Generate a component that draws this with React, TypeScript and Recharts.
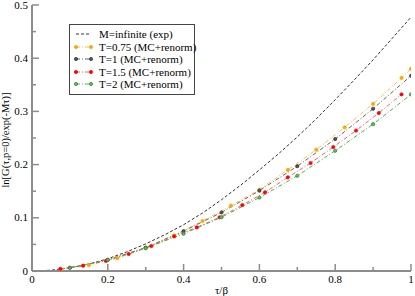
import { LineChart, Line, XAxis, YAxis, Legend } from 'recharts';

const xTicks = [0, 0.1, 0.2, 0.3, 0.4, 0.5, 0.6, 0.7, 0.8, 0.9, 1];
const yTicks = [0, 0.05, 0.1, 0.15, 0.2, 0.25, 0.3, 0.35, 0.4, 0.45, 0.5];

// M = infinite (exp)
const tauExact = [0, 0.05, 0.1, 0.15, 0.2, 0.25, 0.3, 0.35, 0.4, 0.45, 0.5, 0.55, 0.6, 0.65, 0.7, 0.75, 0.8, 0.85, 0.9, 0.95, 1];
const valExact = [0, 0.0015, 0.006, 0.013, 0.023, 0.036, 0.051, 0.068, 0.087, 0.109, 0.134, 0.161, 0.19, 0.22, 0.252, 0.286, 0.322, 0.359, 0.397, 0.437, 0.477];

// T = 0.75
const tauT075 = [0.075, 0.15, 0.225, 0.3, 0.375, 0.45, 0.525, 0.6, 0.675, 0.75, 0.825, 0.9, 0.975, 1];
const valT075 = [0.003, 0.011, 0.024, 0.043, 0.067, 0.094, 0.123, 0.153, 0.19, 0.228, 0.27, 0.314, 0.363, 0.38];

// T = 1
const tauT1 = [0.1, 0.2, 0.3, 0.4, 0.5, 0.6, 0.7, 0.8, 0.9, 1];
const valT1 = [0.006, 0.021, 0.044, 0.075, 0.11, 0.151, 0.197, 0.248, 0.305, 0.367];

// T = 1.5
const tauT15 = [0.075, 0.135, 0.195, 0.255, 0.315, 0.375, 0.435, 0.495, 0.555, 0.615, 0.675, 0.735, 0.795, 0.855, 0.915, 0.975];
const valT15 = [0.004, 0.01, 0.019, 0.032, 0.047, 0.065, 0.082, 0.101, 0.124, 0.148, 0.176, 0.203, 0.233, 0.264, 0.297, 0.332];

// T = 2
const tauT2 = [0.1, 0.2, 0.3, 0.4, 0.5, 0.6, 0.7, 0.8, 0.9, 1];
const valT2 = [0.006, 0.021, 0.043, 0.07, 0.101, 0.138, 0.179, 0.226, 0.276, 0.332];

const toRows = (xs: number[], ys: number[]) => xs.map((x, i) => ({ x, y: ys[i] }));

const FONT = "'Liberation Serif', 'DejaVu Serif', serif";
const AXIS = '#8c8c8c';

const series = [
  { key: 'exact', name: 'M=infinite (exp)', data: toRows(tauExact, valExact), line: '#333333', dash: '3 2', marker: null as null | { fill: string; stroke: string } },
  { key: 't075', name: 'T=0.75 (MC+renorm)', data: toRows(tauT075, valT075), line: '#ffc050', dash: '4 2 1 2', marker: { fill: '#ffa500', stroke: '#ffa500' } },
  { key: 't1', name: 'T=1 (MC+renorm)', data: toRows(tauT1, valT1), line: '#666666', dash: '4 2 1 2', marker: { fill: '#555555', stroke: '#333333' } },
  { key: 't15', name: 'T=1.5 (MC+renorm)', data: toRows(tauT15, valT15), line: '#ff6060', dash: '4 2 1 2', marker: { fill: '#ff0000', stroke: '#ff0000' } },
  { key: 't2', name: 'T=2 (MC+renorm)', data: toRows(tauT2, valT2), line: '#50b050', dash: '4 2 1 2', marker: { fill: '#66bb66', stroke: '#2a8a2a' } },
];

const near = (v: number, step: number) => Math.abs(v / step - Math.round(v / step)) < 1e-6;
const fmt = (v: number) => String(Math.round(v * 100) / 100);

function BottomTick({ x, y, payload }: any) {
  const major = near(payload.value, 0.2);
  return (
    <g>
      <line x1={x} x2={x} y1={y} y2={y - (major ? 7 : 4)} stroke={AXIS} strokeWidth={1.5} />
      {major && (
        <text x={x} y={y + 12} textAnchor="middle" fontSize={11} style={{ fontFamily: FONT }} fill="#000">
          {fmt(payload.value)}
        </text>
      )}
    </g>
  );
}

function TopTick({ x, y, payload }: any) {
  const major = near(payload.value, 0.2);
  return <line x1={x} x2={x} y1={y} y2={y + (major ? 7 : 4)} stroke={AXIS} strokeWidth={1.5} />;
}

function LeftTick({ x, y, payload }: any) {
  const major = near(payload.value, 0.1);
  return (
    <g>
      <line x1={x} x2={x + (major ? 7 : 4)} y1={y} y2={y} stroke={AXIS} strokeWidth={1.5} />
      {major && (
        <text x={x - 4} y={y + 3.5} textAnchor="end" fontSize={11} style={{ fontFamily: FONT }} fill="#000">
          {fmt(payload.value)}
        </text>
      )}
    </g>
  );
}

function RightTick({ x, y, payload }: any) {
  const major = near(payload.value, 0.1);
  return <line x1={x} x2={x - (major ? 7 : 4)} y1={y} y2={y} stroke={AXIS} strokeWidth={1.5} />;
}

function LegendBox() {
  return (
    <div
      style={{
        border: '1.5px solid #444',
        background: '#fff',
        padding: '3px 0 3px 0',
        width: 124,
        fontFamily: FONT,
        fontSize: 11,
        lineHeight: '12.5px',
      }}
    >
      {series.map((s) => (
        <div key={s.key} style={{ display: 'flex', alignItems: 'center', height: 12.5, whiteSpace: 'nowrap' }}>
          <svg width={28} height={10} style={{ flex: 'none' }}>
            <line x1={6} x2={21} y1={5} y2={5} stroke={s.line} strokeDasharray={s.dash} strokeWidth={1} />
            {s.marker && (
              <>
                <circle cx={6} cy={5} r={1.6} fill={s.marker.fill} stroke={s.marker.stroke} strokeWidth={0.8} />
                <circle cx={21} cy={5} r={1.6} fill={s.marker.fill} stroke={s.marker.stroke} strokeWidth={0.8} />
              </>
            )}
          </svg>
          <span style={{ marginLeft: 1 }}>{s.name}</span>
        </div>
      ))}
    </div>
  );
}

export default function App() {
  return (
    <div style={{ width: 415, height: 296, fontFamily: FONT }}>
      <style>{`body{margin:0;background:#fff} .recharts-wrapper, .recharts-wrapper text { font-family: ${FONT}; }`}</style>
      <LineChart width={415} height={296} margin={{ top: 5, right: 4, bottom: 0, left: 0 }}>
        <XAxis
          xAxisId="b"
          dataKey="x"
          type="number"
          domain={[0, 1]}
          ticks={xTicks}
          interval={0}
          height={25}
          tickSize={0}
          tickMargin={0}
          tickLine={false}
          tick={<BottomTick />}
          axisLine={{ stroke: AXIS, strokeWidth: 2 }}
          allowDataOverflow
          label={{ value: 'τ/β', position: 'insideBottom', offset: 2, fontSize: 11, fill: '#000' }}
        />
        <XAxis
          xAxisId="t"
          dataKey="x"
          type="number"
          orientation="top"
          domain={[0, 1]}
          ticks={xTicks}
          interval={0}
          height={0}
          tickSize={0}
          tickMargin={0}
          tickLine={false}
          tick={<TopTick />}
          axisLine={{ stroke: AXIS, strokeWidth: 2 }}
          allowDataOverflow
        />
        <YAxis
          yAxisId="l"
          type="number"
          domain={[0, 0.5]}
          ticks={yTicks}
          interval={0}
          width={32}
          tickSize={0}
          tickMargin={0}
          tickLine={false}
          tick={<LeftTick />}
          axisLine={{ stroke: AXIS, strokeWidth: 2 }}
          allowDataOverflow
          label={{
            content: () => (
              <text x={9} y={140} transform="rotate(-90 9 140)" textAnchor="middle" fontSize={10.5} fill="#000">
                ln[G(τ,p=0)/exp(-Mτ)]
              </text>
            ),
          }}
        />
        <YAxis
          yAxisId="r"
          type="number"
          orientation="right"
          domain={[0, 0.5]}
          ticks={yTicks}
          interval={0}
          width={0}
          tickSize={0}
          tickMargin={0}
          tickLine={false}
          tick={<RightTick />}
          axisLine={{ stroke: AXIS, strokeWidth: 2 }}
          allowDataOverflow
        />
        <Legend
          layout="vertical"
          align="center"
          verticalAlign="middle"
          wrapperStyle={{ left: 69, top: 24, width: 127 }}
          content={() => <LegendBox />}
        />
        {series.map((s) => (
          <Line
            key={s.key}
            xAxisId="b"
            yAxisId="l"
            data={s.data}
            dataKey="y"
            name={s.name}
            type="linear"
            stroke={s.line}
            strokeWidth={1}
            strokeDasharray={s.dash}
            dot={s.marker ? { r: 1.6, fill: s.marker.fill, stroke: s.marker.stroke, strokeWidth: 0.8, strokeDasharray: '' } : false}
            activeDot={false}
            isAnimationActive={false}
          />
        ))}
      </LineChart>
    </div>
  );
}
